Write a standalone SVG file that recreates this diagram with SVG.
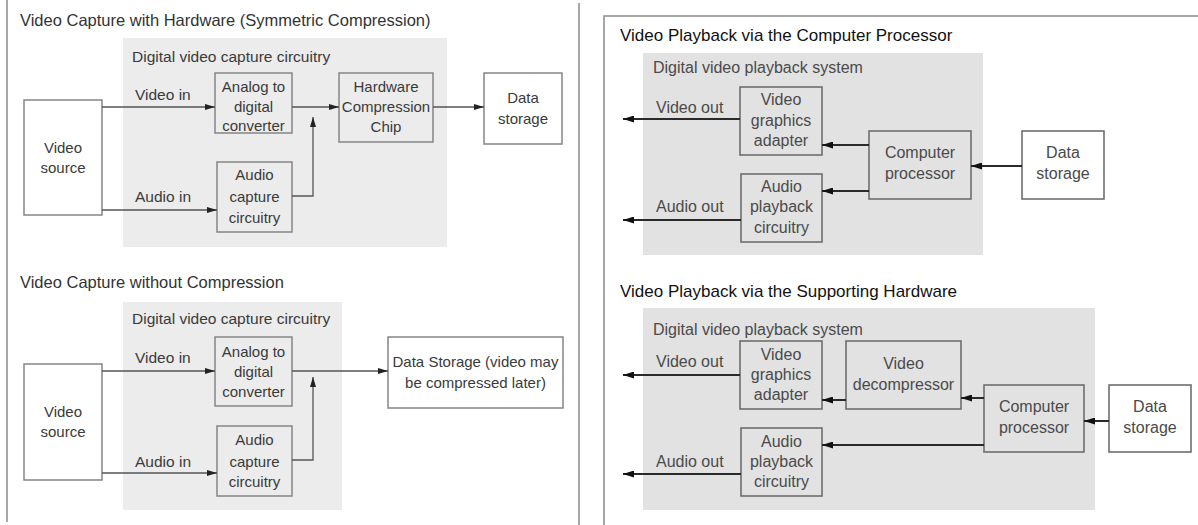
<svg xmlns="http://www.w3.org/2000/svg" width="1198" height="525" viewBox="0 0 1198 525">
<defs>
<style>
.bg{fill:#ffffff}
.frame{fill:none;stroke:#8a8a8a;stroke-width:1.5}
.panelL{fill:#ececec}
.panelR{fill:#e2e2e2}
.boxW{fill:#ffffff;stroke:#858585;stroke-width:1.5}
.boxGL{fill:#ececec;stroke:#858585;stroke-width:1.5}
.boxGR{fill:#e2e2e2;stroke:#6e6e6e;stroke-width:1.6}
.boxWR{fill:#ffffff;stroke:#6e6e6e;stroke-width:1.6}
text{font-family:"Liberation Sans",Arial,sans-serif}
.tL{font-size:16.5px;fill:#333}
.nL{font-size:15.5px;fill:#3a3a3a}
.nLc{font-size:15px;fill:#3a3a3a;text-anchor:middle}
.tR{font-size:17px;fill:#111}
.nR{font-size:16px;fill:#4a4a4a}
.nRc{font-size:16px;fill:#4a4a4a;text-anchor:middle}
.cL{fill:none;stroke:#555;stroke-width:1.3}
.cR{fill:none;stroke:#2a2a2a;stroke-width:2}
</style>
<marker id="ahL" viewBox="0 0 10 6" refX="10" refY="3" markerWidth="10" markerHeight="6" markerUnits="userSpaceOnUse" orient="auto">
<path d="M0,0 L10,3 L0,6 Z" fill="#222"/>
</marker>
<marker id="ahR" viewBox="0 0 11 7" refX="11" refY="3.5" markerWidth="11" markerHeight="7" markerUnits="userSpaceOnUse" orient="auto">
<path d="M0,0 L11,3.5 L0,7 Z" fill="#111"/>
</marker>
</defs>
<rect class="bg" x="0" y="0" width="1198" height="525"/>

<!-- frames -->
<g id="frames">
<line class="frame" x1="7" y1="0" x2="7" y2="522"/>
<line class="frame" x1="579" y1="3" x2="579" y2="525"/>
<path class="frame" d="M604,525 V16 H1198"/>
</g>

<!-- ===== Top-left: Video Capture with Hardware ===== -->
<text class="tL" x="20" y="26">Video Capture with Hardware (Symmetric Compression)</text>
<g id="panel-capture-hw">
<rect class="panelL" x="123" y="38" width="324" height="209"/>
<text class="nL" x="132" y="62">Digital video capture circuitry</text>
</g>
<g id="src1">
<rect class="boxW" x="24" y="100" width="78" height="115"/>
<text class="nLc" x="63" y="153">Video</text>
<text class="nLc" x="63" y="173">source</text>
</g>
<g id="adc1">
<rect class="boxGL" x="215" y="73" width="77" height="60"/>
<text class="nLc" x="253.5" y="92">Analog to</text>
<text class="nLc" x="253.5" y="112">digital</text>
<text class="nLc" x="253.5" y="131">converter</text>
</g>
<g id="audio1">
<rect class="boxGL" x="217" y="162" width="75" height="70"/>
<text class="nLc" x="254.5" y="180">Audio</text>
<text class="nLc" x="254.5" y="202">capture</text>
<text class="nLc" x="254.5" y="223">circuitry</text>
</g>
<g id="chip1">
<rect class="boxGL" x="339" y="73" width="94" height="69"/>
<text class="nLc" x="386" y="92">Hardware</text>
<text class="nLc" x="386" y="112">Compression</text>
<text class="nLc" x="386" y="132">Chip</text>
</g>
<g id="store1">
<rect class="boxW" x="484" y="73" width="78" height="71"/>
<text class="nLc" x="523" y="103">Data</text>
<text class="nLc" x="523" y="124">storage</text>
</g>

<!-- ===== Bottom-left: Video Capture without Compression ===== -->
<text class="tL" x="20" y="288">Video Capture without Compression</text>
<g id="panel-capture-nc">
<rect class="panelL" x="123" y="302" width="219" height="208"/>
<text class="nL" x="132" y="324">Digital video capture circuitry</text>
</g>
<g id="src2">
<rect class="boxW" x="24" y="364" width="78" height="116"/>
<text class="nLc" x="63" y="417">Video</text>
<text class="nLc" x="63" y="437">source</text>
</g>
<g id="adc2">
<rect class="boxGL" x="215" y="337" width="77" height="69"/>
<text class="nLc" x="253.5" y="357">Analog to</text>
<text class="nLc" x="253.5" y="377">digital</text>
<text class="nLc" x="253.5" y="397">converter</text>
</g>
<g id="audio2">
<rect class="boxGL" x="217" y="426" width="75" height="70"/>
<text class="nLc" x="254.5" y="445">Audio</text>
<text class="nLc" x="254.5" y="467">capture</text>
<text class="nLc" x="254.5" y="487">circuitry</text>
</g>
<g id="store2">
<rect class="boxW" x="388" y="337" width="175" height="71"/>
<text class="nLc" x="475.5" y="367">Data Storage (video may</text>
<text class="nLc" x="475.5" y="388">be compressed later)</text>
</g>

<!-- ===== Top-right: Playback via Computer Processor ===== -->
<text class="tR" x="620" y="41">Video Playback via the Computer Processor</text>
<g id="panel-play-cpu">
<rect class="panelR" x="643" y="53" width="340" height="202"/>
<text class="nR" x="653" y="73">Digital video playback system</text>
</g>
<g id="vga1">
<rect class="boxGR" x="740" y="87" width="82" height="68"/>
<text class="nRc" x="781" y="105">Video</text>
<text class="nRc" x="781" y="126">graphics</text>
<text class="nRc" x="781" y="146">adapter</text>
</g>
<g id="apc1">
<rect class="boxGR" x="741" y="174" width="81" height="68"/>
<text class="nRc" x="781.5" y="192">Audio</text>
<text class="nRc" x="781.5" y="212">playback</text>
<text class="nRc" x="781.5" y="233">circuitry</text>
</g>
<g id="cpu1">
<rect class="boxGR" x="869" y="131" width="102" height="68"/>
<text class="nRc" x="920" y="158">Computer</text>
<text class="nRc" x="920" y="179">processor</text>
</g>
<g id="store3">
<rect class="boxWR" x="1022" y="131" width="82" height="68"/>
<text class="nRc" x="1063" y="158">Data</text>
<text class="nRc" x="1063" y="179">storage</text>
</g>

<!-- ===== Bottom-right: Playback via Supporting Hardware ===== -->
<text class="tR" x="620" y="297">Video Playback via the Supporting Hardware</text>
<g id="panel-play-hw">
<rect class="panelR" x="643" y="308" width="452" height="202"/>
<text class="nR" x="653" y="335">Digital video playback system</text>
</g>
<g id="vga2">
<rect class="boxGR" x="740" y="341" width="82" height="68"/>
<text class="nRc" x="781" y="360">Video</text>
<text class="nRc" x="781" y="380">graphics</text>
<text class="nRc" x="781" y="400">adapter</text>
</g>
<g id="dec2">
<rect class="boxGR" x="846" y="341" width="115" height="68"/>
<text class="nRc" x="903.5" y="369">Video</text>
<text class="nRc" x="903.5" y="390">decompressor</text>
</g>
<g id="apc2">
<rect class="boxGR" x="741" y="428" width="81" height="68"/>
<text class="nRc" x="781.5" y="447">Audio</text>
<text class="nRc" x="781.5" y="467">playback</text>
<text class="nRc" x="781.5" y="487">circuitry</text>
</g>
<g id="cpu2">
<rect class="boxGR" x="984" y="385" width="100" height="67"/>
<text class="nRc" x="1034" y="412">Computer</text>
<text class="nRc" x="1034" y="433">processor</text>
</g>
<g id="store4">
<rect class="boxWR" x="1109" y="385" width="82" height="67"/>
<text class="nRc" x="1150" y="412">Data</text>
<text class="nRc" x="1150" y="433">storage</text>
</g>

<!-- ===== Connectors ===== -->
<g id="connectors">
<path class="cL" d="M102,107 H215" marker-end="url(#ahL)"/>
<path class="cL" d="M102,210 H217" marker-end="url(#ahL)"/>
<path class="cL" d="M292,107 H339" marker-end="url(#ahL)"/>
<path class="cL" d="M292,196 H313 V117" marker-end="url(#ahL)"/>
<path class="cL" d="M433,107 H484" marker-end="url(#ahL)"/>
<text class="nL" x="135" y="100">Video in</text>
<text class="nL" x="135" y="202">Audio in</text>

<path class="cL" d="M102,371 H215" marker-end="url(#ahL)"/>
<path class="cL" d="M102,473 H217" marker-end="url(#ahL)"/>
<path class="cL" d="M292,371 H388" marker-end="url(#ahL)"/>
<path class="cL" d="M292,460 H313 V377" marker-end="url(#ahL)"/>
<text class="nL" x="135" y="363">Video in</text>
<text class="nL" x="135" y="467">Audio in</text>

<path class="cR" d="M1022,166 H971" marker-end="url(#ahR)"/>
<path class="cR" d="M869,145 H822" marker-end="url(#ahR)"/>
<path class="cR" d="M869,191 H822" marker-end="url(#ahR)"/>
<path class="cR" d="M740,119 H623" marker-end="url(#ahR)"/>
<path class="cR" d="M741,220 H623" marker-end="url(#ahR)"/>
<text class="nR" x="656" y="113">Video out</text>
<text class="nR" x="656" y="212">Audio out</text>

<path class="cR" d="M1109,421 H1084" marker-end="url(#ahR)"/>
<path class="cR" d="M984,398 H961" marker-end="url(#ahR)"/>
<path class="cR" d="M846,400 H822" marker-end="url(#ahR)"/>
<path class="cR" d="M984,445 H822" marker-end="url(#ahR)"/>
<path class="cR" d="M740,375 H623" marker-end="url(#ahR)"/>
<path class="cR" d="M741,474 H623" marker-end="url(#ahR)"/>
<text class="nR" x="656" y="367">Video out</text>
<text class="nR" x="656" y="467">Audio out</text>
</g>
</svg>
